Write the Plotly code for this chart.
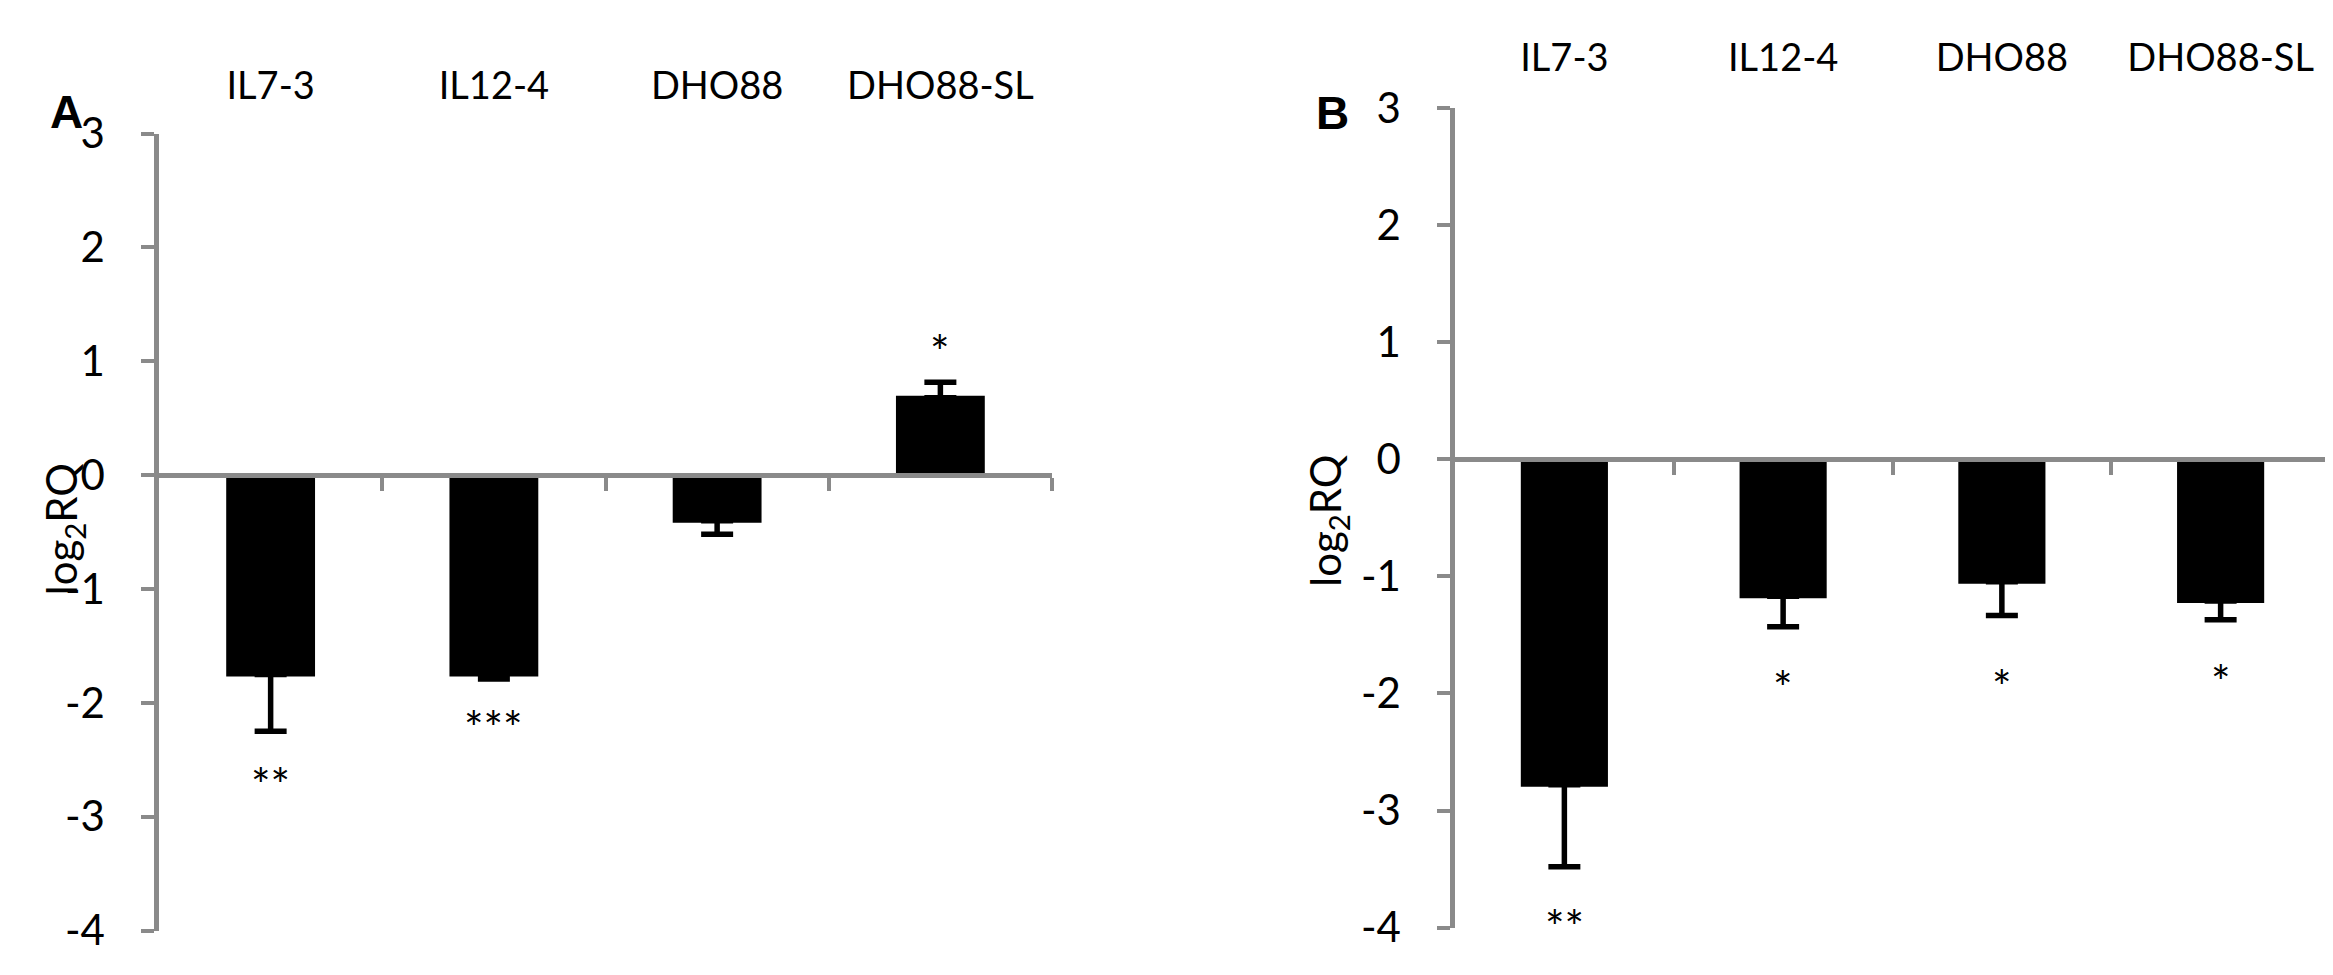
import plotly.graph_objects as go

# data
categories = ["IL7-3", "IL12-4", "DHO88", "DHO88-SL"]

a_values = [-1.75, -1.75, -0.40, 0.68]
a_err = [0.50, 0.04, 0.12, 0.135]
a_sig = ["**", "***", "", "*"]
a_sig_y = [-2.65, -2.15, None, 1.16]

b_values = [-2.78, -1.17, -1.045, -1.21]
b_err = [0.70, 0.26, 0.29, 0.16]
b_sig = ["**", "*", "*", "*"]
b_sig_y = [-3.92, -1.88, -1.87, -1.83]

y_ticks = [-4, -3, -2, -1, 0, 1, 2, 3]
y_tick_labels = ["-4", "-3", "-2", "-1", "0", "1", "2", "3"]

W, H = 2333, 975
GREY = "#8a8a8a"
FONT = "Lato"

fig = go.Figure()


def add_panel(n, values, errs, sig, sig_y, xdom, ydom, label_pos):
    xa = "x" if n == 1 else "x%d" % n
    ya = "y" if n == 1 else "y%d" % n
    # one-sided error bars, pointing away from zero
    plus = [e if v > 0 else 0 for v, e in zip(values, errs)]
    minus = [e if v < 0 else 0 for v, e in zip(values, errs)]
    fig.add_trace(go.Bar(
        x=categories, y=values, xaxis=xa, yaxis=ya,
        marker=dict(color="black", line=dict(width=4, color="black")),
        error_y=dict(type="data", symmetric=False, array=plus, arrayminus=minus,
                     color="black", thickness=5.5, width=16),
        showlegend=False,
    ))
    for c, s, sy in zip(categories, sig, sig_y):
        if s:
            fig.add_annotation(x=c, y=sy, xref=xa, yref=ya, text=s, showarrow=False,
                               font=dict(family=FONT, size=46, color="black"),
                               yanchor="middle", yshift=-8)

    zero = ydom[0] + (ydom[1] - ydom[0]) * (0 - y_ticks[0]) / (y_ticks[-1] - y_ticks[0])
    key = "" if n == 1 else str(n)
    # top axis: category labels only
    fig.layout["xaxis" + key] = dict(
        domain=xdom, side="top", anchor="free", position=label_pos,
        type="category", range=[-0.5, 3.5], showline=False, ticks="",
        showgrid=False, zeroline=False,
        tickfont=dict(family=FONT, size=38, color="black"),
    )
    # overlay axis: the zero line with ticks between categories
    ov = n + 10
    fig.layout["xaxis%d" % ov] = dict(
        overlaying=xa, anchor="free", position=zero, side="bottom",
        range=[-0.5, 3.5], tickvals=[0.5, 1.5, 2.5, 3.5], showticklabels=False,
        ticks="outside", ticklen=13, tickwidth=4, tickcolor=GREY,
        showline=True, linecolor=GREY, linewidth=4.5, showgrid=False, zeroline=False,
    )
    fig.add_trace(go.Scatter(x=[None], y=[None], xaxis="x%d" % ov, yaxis=ya,
                             showlegend=False, hoverinfo="skip"))
    fig.layout["yaxis" + key] = dict(
        domain=ydom, anchor=xa, range=[y_ticks[0], y_ticks[-1]],
        tickvals=y_ticks, ticktext=y_tick_labels,
        ticks="outside", ticklen=13, tickwidth=4, tickcolor=GREY,
        showline=True, linecolor=GREY, linewidth=4.5, showgrid=False, zeroline=False,
        ticklabelstandoff=28,
        tickfont=dict(family=FONT, size=42, color="black"),
    )


add_panel(1, a_values, a_err, a_sig, a_sig_y,
          [151 / W, 1044 / W], [1 - 945 / H, 1 - 105 / H], 1 - 76 / H)
add_panel(2, b_values, b_err, b_sig, b_sig_y,
          [1447 / W, 2322 / W], [1 - 942 / H, 1 - 78 / H], 1 - 47 / H)

# y titles and panel letters
for xp, yp in [(26, 522), (1320, 512)]:
    fig.add_annotation(x=xp / W, y=1 - yp / H, xref="paper", yref="paper",
                       text="log<sub>2</sub>RQ", textangle=-90, showarrow=False,
                       font=dict(family=FONT, size=42, color="black"))
for txt, xp, yp in [("A", 40, 53), ("B", 1324, 54)]:
    fig.add_annotation(x=xp / W, y=1 - yp / H, xref="paper", yref="paper",
                       text="<b>%s</b>" % txt, showarrow=False,
                       font=dict(family="Liberation Sans", size=46, color="black"))

fig.update_layout(
    width=W, height=H,
    margin=dict(l=0, r=0, t=0, b=0),
    paper_bgcolor="white", plot_bgcolor="white",
    bargap=0.62,
    showlegend=False,
)

fig.write_html("out.html")
